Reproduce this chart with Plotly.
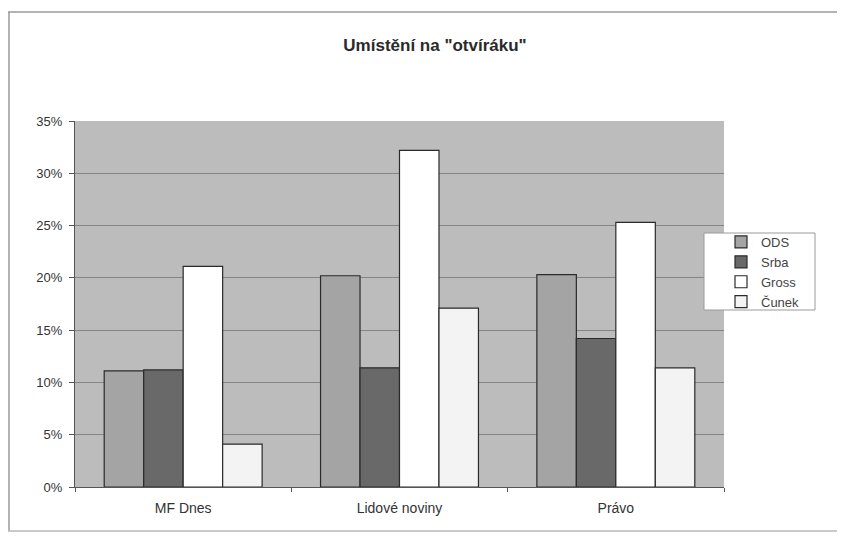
import plotly.graph_objects as go

categories = ["MF Dnes", "Lidové noviny", "Právo"]
series_names = ["ODS", "Srba", "Gross", "Čunek"]
ods = [11.1, 20.2, 20.3]
srba = [11.2, 11.4, 14.2]
gross = [21.1, 32.2, 25.3]
cunek = [4.1, 17.1, 11.4]
y_ticks = [0, 5, 10, 15, 20, 25, 30, 35]
y_tick_labels = ["0%", "5%", "10%", "15%", "20%", "25%", "30%", "35%"]

colors = ["#a4a4a4", "#696969", "#ffffff", "#f3f3f3"]
values = [ods, srba, gross, cunek]

# figure sits at an 8px page margin; keep it inside the window so no scrollbars appear
FW, FH = 829, 524
L, T, R, B = 67, 113, 716, 479
W, H = R - L, B - T


def px(x):
    return (x - L) / W


def py(y):
    return (B - y) / H


fig = go.Figure()
for name, vals, col in zip(series_names, values, colors):
    fig.add_trace(go.Bar(
        x=categories, y=vals, name=name,
        marker=dict(color=col, line=dict(color="#2a2a2a", width=1.2)),
    ))

fig.update_layout(
    width=FW, height=FH,
    barmode="group", bargap=0.27, bargroupgap=0,
    paper_bgcolor="white", plot_bgcolor="#bcbcbc",
    margin=dict(l=L, r=FW - R, t=T, b=FH - B),
    font=dict(family="Liberation Sans, Arial, sans-serif", size=13, color="#333333"),
    title=dict(text="<b>Umístění na \"otvíráku\"</b>", x=427 / FW, xanchor="center",
               y=1 - 37 / FH, yanchor="middle",
               font=dict(size=17, color="#2a2a2a")),
    showlegend=True,
    legend=dict(x=px(713), y=py(219), xanchor="left", yanchor="top",
                bgcolor="rgba(0,0,0,0)", borderwidth=0,
                font=dict(size=13, color="#444444"), traceorder="normal",
                itemwidth=30, tracegroupgap=0),
    shapes=[
        dict(type="rect", xref="paper", yref="paper", x0=px(696), x1=px(807), y0=py(302), y1=py(225),
             fillcolor="white", line=dict(color="#9a9a9a", width=1), layer="above"),
        dict(type="line", xref="paper", yref="paper", x0=px(0), x1=px(FW), y0=py(4), y1=py(4),
             line=dict(color="#9a9a9a", width=1.5)),
        dict(type="line", xref="paper", yref="paper", x0=px(1), x1=px(1), y0=py(FH - 1), y1=py(4),
             line=dict(color="#9a9a9a", width=1.5)),
        dict(type="line", xref="paper", yref="paper", x0=px(0), x1=px(FW), y0=py(FH - 1), y1=py(FH - 1),
             line=dict(color="#b8b8b8", width=1.5)),
    ],
)
fig.update_xaxes(showgrid=False, ticks="outside", tickson="boundaries", ticklen=4,
                 tickcolor="#555555", showline=True, linecolor="#555555", linewidth=1,
                 ticklabelstandoff=8,
                 tickfont=dict(size=14, color="#333333"))
fig.update_yaxes(range=[0, 35], tickvals=y_ticks, ticktext=y_tick_labels,
                 showgrid=True, gridcolor="#858585", gridwidth=1,
                 ticks="outside", ticklen=5, tickcolor="#555555",
                 showline=True, linecolor="#555555", linewidth=1,
                 ticklabelstandoff=4,
                 zeroline=False, tickfont=dict(size=13, color="#333333"))

fig.write_html("out.html")
